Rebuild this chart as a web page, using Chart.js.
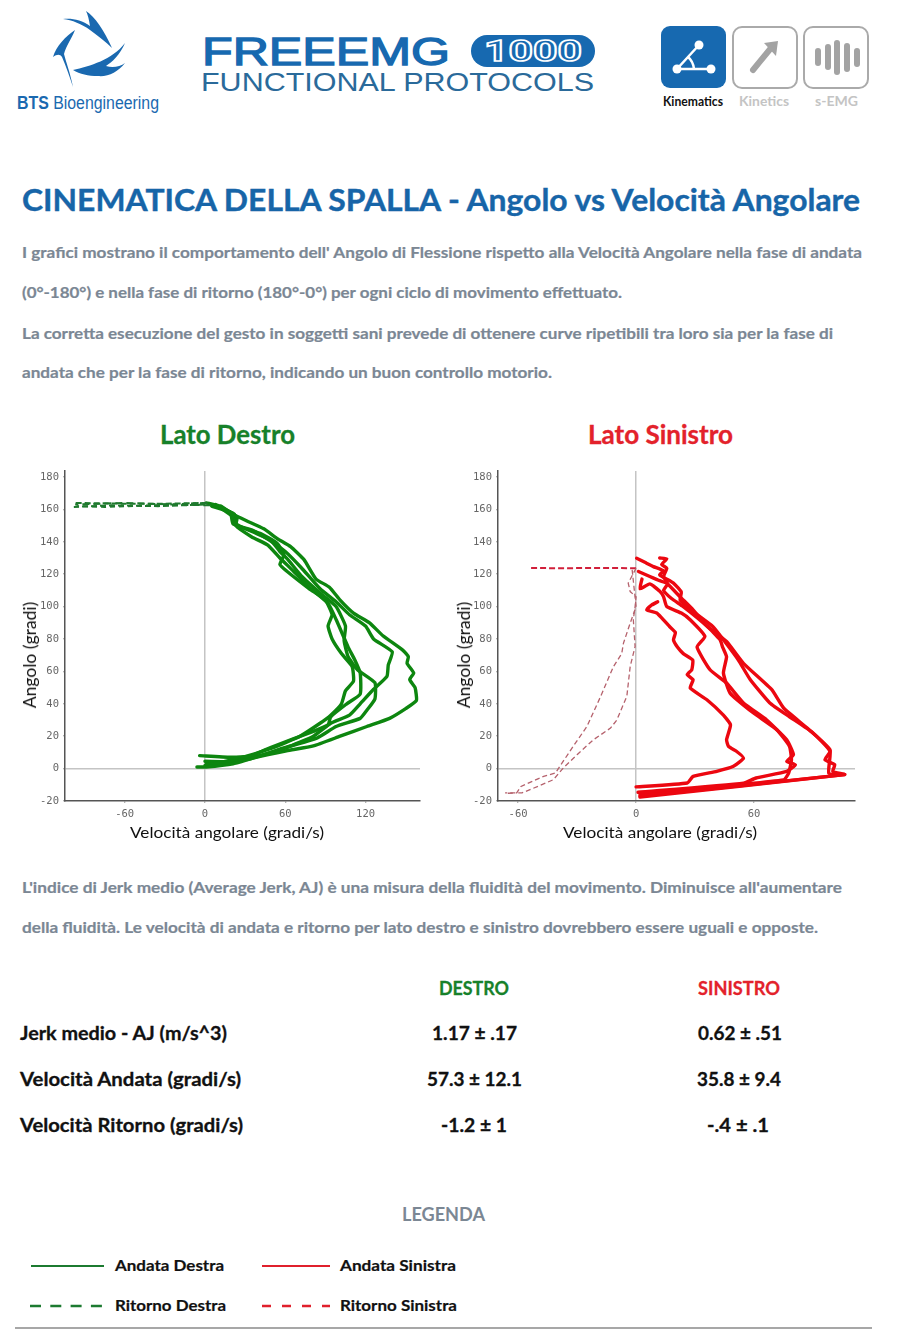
<!DOCTYPE html>
<html lang="it">
<head>
<meta charset="utf-8">
<title>Cinematica della spalla</title>
<script src="https://cdn.jsdelivr.net/npm/chart.js@4/dist/chart.umd.min.js"></script>
<style>
    html, body { margin: 0; padding: 0; background: #fff; }
    #page { position: relative; width: 924px; height: 1339px; overflow: hidden; font-family: Lato, sans-serif; font-weight: 700; }
    .t { position: absolute; white-space: nowrap; line-height: 0; transform-origin: left center; }
    .para { font-size: 15px; color: #7b8794; -webkit-text-stroke: 0.2px #7b8794; }
    .row { font-size: 19px; color: #111; -webkit-text-stroke: 0.3px #111; }
    .leg { font-size: 15px; color: #111; -webkit-text-stroke: 0.2px #111; }
    .axis { font-size: 16px; font-weight: 400; color: #111; }
    .tick-y { transform-origin: center center; }
    canvas { position: absolute; }
    svg { position: absolute; left: 0; top: 0; }
</style>
</head>
<body>
<div id="page">
    <svg width="924" height="1339">
        <!-- BTS logo -->
        <g fill="#1a69b0">
            <path d="M63 19 C72 18 82 20 90 26 C89 20 88 15 86 11 C95 17 104 30 112 48 C106 42 98 36 90 30 C82 24 72 20 63 19Z"/>
            <path d="M75 30 C66 36 56 46 53 57 C57 54 60 54 62 57 C66 66 70 78 73 87 C70 72 66 62 64 54 C66 46 72 38 75 30Z"/>
            <path d="M73 70 C90 66 112 60 125 43 C120 55 112 62 106 66 C112 68 120 67 125 63 C118 72 108 77 98 76 C88 76 80 74 73 70Z"/>
        </g>
        <!-- 1000 pill -->
        <rect x="471" y="35" width="124" height="32" rx="16" fill="#1769b0"/>
        <!-- Kinematics icon -->
        <rect x="661" y="26" width="65" height="62" rx="9" fill="#1769b0"/>
        <g stroke="#fff" stroke-width="2.5" fill="none">
            <path d="M699 45 L677 69 L711 69"/>
            <path d="M688 57 Q693 61 694 69"/>
        </g>
        <g fill="#fff">
            <circle cx="699" cy="45" r="4.5"/><circle cx="677" cy="69" r="4.5"/><circle cx="711" cy="69" r="4.5"/>
        </g>
        <!-- Kinetics icon -->
        <rect x="733" y="27" width="64" height="61" rx="9" fill="#fff" stroke="#aaa" stroke-width="2"/>
        <path d="M753 70 L771 48" stroke="#a3a3a3" stroke-width="6" stroke-linecap="round"/>
        <path d="M764 43 L778 41 L776 56 Z" fill="#a3a3a3"/>
        <!-- s-EMG icon -->
        <rect x="804" y="27" width="64" height="61" rx="9" fill="#fff" stroke="#aaa" stroke-width="2"/>
        <g stroke="#a3a3a3" stroke-width="6" stroke-linecap="round">
            <path d="M818 51 V63"/><path d="M828 47 V67"/><path d="M837 43 V72"/><path d="M847 46 V69"/><path d="M857 51 V64"/>
        </g>
        <!-- legend samples -->
        <line x1="31" y1="1266" x2="104" y2="1266" stroke="#1c7a30" stroke-width="2.2"/>
        <line x1="262" y1="1266" x2="330" y2="1266" stroke="#e0202c" stroke-width="2.2"/>
        <line x1="30" y1="1306" x2="102" y2="1306" stroke="#1c7a30" stroke-width="2.5" stroke-dasharray="11 9.3"/>
        <line x1="262" y1="1306" x2="330" y2="1306" stroke="#e0202c" stroke-width="2.5" stroke-dasharray="9 11"/>
        <line x1="15" y1="1328" x2="872" y2="1328" stroke="#8a8a8a" stroke-width="1.5"/>
    </svg>

    <span class="t" data-w="142" style="left:17px;top:103px;font-size:18px;font-family:'Liberation Sans';font-weight:400;color:#1a69b0"><b>BTS</b> Bioengineering</span>
    <span class="t" data-w="248" style="left:202px;top:52px;font-size:39px;font-family:'Liberation Sans';font-weight:400;color:#1769b0;-webkit-text-stroke:1.3px #1769b0">FREEEMG</span>
    <span class="t" data-w="98" style="left:484px;top:51px;font-size:30px;font-family:Roboto;color:#1769b0;-webkit-text-stroke:1.6px #fff">1000</span>
    <span class="t" data-w="393" style="left:201px;top:82px;font-size:26px;font-family:'Liberation Sans';font-weight:400;color:#2a6a9a">FUNCTIONAL PROTOCOLS</span>
    <span class="t" data-w="60" style="left:663px;top:101px;font-size:14px;color:#111">Kinematics</span>
    <span class="t" data-w="50" style="left:739px;top:101px;font-size:13px;color:#c4c4c4">Kinetics</span>
    <span class="t" data-w="43" style="left:815px;top:101px;font-size:13px;color:#c4c4c4">s-EMG</span>

    <span class="t" data-w="838" style="left:22px;top:199px;font-size:31px;color:#1765a8;-webkit-text-stroke:0.4px #1765a8">CINEMATICA DELLA SPALLA - Angolo vs Velocità Angolare</span>
    <span class="t para" data-w="840" style="left:22px;top:252px">I grafici mostrano il comportamento dell' Angolo di Flessione rispetto alla Velocità Angolare nella fase di andata</span>
    <span class="t para" data-w="600" style="left:22px;top:292px">(0°-180°) e nella fase di ritorno (180°-0°) per ogni ciclo di movimento effettuato.</span>
    <span class="t para" data-w="811" style="left:22px;top:333px">La corretta esecuzione del gesto in soggetti sani prevede di ottenere curve ripetibili tra loro sia per la fase di</span>
    <span class="t para" data-w="530" style="left:22px;top:372px">andata che per la fase di ritorno, indicando un buon controllo motorio.</span>

    <span class="t" data-w="135" style="left:160px;top:434px;font-size:26px;color:#17812a;-webkit-text-stroke:0.3px #17812a">Lato Destro</span>
    <span class="t" data-w="145" style="left:588px;top:434px;font-size:26px;color:#e3222b;-webkit-text-stroke:0.3px #e3222b">Lato Sinistro</span>

    <canvas id="chartDestro" width="420" height="385" style="left:15px;top:460px"></canvas>
    <canvas id="chartSinistro" width="420" height="385" style="left:448px;top:460px"></canvas>

    <span class="t axis" data-w="194" style="left:130px;top:832px">Velocità angolare (gradi/s)</span>
    <span class="t axis" data-w="194" style="left:563px;top:832px">Velocità angolare (gradi/s)</span>
    <span class="t axis tick-y" style="left:30px;top:655px;font-size:17.5px;transform:translateX(-50%) rotate(-90deg)">Angolo (gradi)</span>
    <span class="t axis tick-y" style="left:464px;top:655px;font-size:17.5px;transform:translateX(-50%) rotate(-90deg)">Angolo (gradi)</span>

    <span class="t para" data-w="820" style="left:22px;top:887px">L'indice di Jerk medio (Average Jerk, AJ) è una misura della fluidità del movimento. Diminuisce all'aumentare</span>
    <span class="t para" data-w="796" style="left:22px;top:927px">della fluidità. Le velocità di andata e ritorno per lato destro e sinistro dovrebbero essere uguali e opposte.</span>

    <span class="t" data-w="70" style="left:439px;top:988px;font-size:18px;color:#17812a;-webkit-text-stroke:0.3px #17812a">DESTRO</span>
    <span class="t" data-w="82" style="left:698px;top:988px;font-size:18px;color:#e3222b;-webkit-text-stroke:0.3px #e3222b">SINISTRO</span>

    <span class="t row" data-w="207" style="left:20px;top:1033px">Jerk medio - AJ (m/s^3)</span>
    <span class="t row" data-w="85" style="left:432px;top:1033px">1.17 ± .17</span>
    <span class="t row" data-w="84" style="left:698px;top:1033px">0.62 ± .51</span>
    <span class="t row" data-w="221" style="left:20px;top:1079px">Velocità Andata (gradi/s)</span>
    <span class="t row" data-w="95" style="left:427px;top:1079px">57.3 ± 12.1</span>
    <span class="t row" data-w="84" style="left:697px;top:1079px">35.8 ± 9.4</span>
    <span class="t row" data-w="223" style="left:20px;top:1125px">Velocità Ritorno (gradi/s)</span>
    <span class="t row" data-w="66" style="left:441px;top:1125px">-1.2 ± 1</span>
    <span class="t row" data-w="62" style="left:707px;top:1125px">-.4 ± .1</span>

    <span class="t" data-w="83" style="left:402px;top:1214px;font-size:18px;color:#7b8794">LEGENDA</span>
    <span class="t leg" data-w="109" style="left:115px;top:1265px">Andata Destra</span>
    <span class="t leg" data-w="116" style="left:340px;top:1265px">Andata Sinistra</span>
    <span class="t leg" data-w="111" style="left:115px;top:1305px">Ritorno Destra</span>
    <span class="t leg" data-w="117" style="left:340px;top:1305px">Ritorno Sinistra</span>
</div>

<script>
// Axis ticks
const angleTicks = [-20, 0, 20, 40, 60, 80, 100, 120, 140, 160, 180];
const speedTicksDestro = [-60, 0, 60, 120];
const speedTicksSinistro = [-60, 0, 60];

// Lato destro, andata: speed (gradi/s) and angle (gradi) for each cycle
const andataD1Speed = [-6, 1, 21, 36, 61, 81, 101, 121, 138, 150, 158, 157, 153, 156, 151, 152, 148, 133, 123, 111, 101, 93, 83, 74, 64, 54, 44, 31, 21, 11, 1];
const andataD1Angle = [1, 1, 3, 6.5, 11, 14, 20, 26, 31, 37, 42, 50, 55, 59, 65, 69, 73, 82, 90, 96, 104, 112, 117, 129, 137, 142, 148, 153, 157, 162, 164];
const andataD2Speed = [-4, 19, 41, 61, 81, 94, 108, 116, 126, 136, 137, 140, 126, 120, 108, 98, 86, 72, 60, 48, 36, 21, 19, 5];
const andataD2Angle = [8, 7, 8, 13, 20, 28, 33, 40, 49, 57, 64, 72, 80, 88, 95, 103, 111, 124, 134, 141, 147, 151, 158, 162];
const andataD3Speed = [1, 31, 56, 84, 98, 116, 121, 127, 127, 114, 107, 104, 105, 98, 88, 72, 62, 56, 49, 36, 23, 20, 8];
const andataD3Angle = [2.5, 5.5, 12, 19, 26, 31, 36, 43, 53, 61, 69, 79, 88, 100, 107, 119, 129, 134, 141, 146, 151, 156, 163];
const andataD4Speed = [0, 24, 49, 81, 92, 94, 106, 116, 116, 112, 107, 98, 92, 78, 66, 56, 47, 35, 23, 24, 12];
const andataD4Angle = [4.5, 4.5, 13, 23, 27, 32, 40, 46, 59, 67, 75, 92, 102, 112, 122, 130, 138, 143, 150, 155, 162];
const andataD5Speed = [0, 26, 51, 71, 86, 94, 102, 105, 111, 110, 102, 95, 92, 95, 90, 78, 61, 56, 59, 54, 42, 24, 22, 8];
const andataD5Angle = [2, 6.5, 13, 20, 28, 33, 40, 48, 54, 63, 71, 80, 88, 95, 104, 111, 122, 126, 132, 139, 145, 150, 157, 162];

// Lato destro, ritorno
const ritornoD1Speed = [2, -30, -60, -98];
const ritornoD1Angle = [164, 163.5, 163.5, 164];
const ritornoD2Speed = [0, -35, -70, -98];
const ritornoD2Angle = [163, 162, 162.5, 161.5];
const ritornoD3Speed = [4, -25, -60, -97];
const ritornoD3Angle = [162.5, 163, 164, 163];
const ritornoD4Speed = [0, -40, -75, -96];
const ritornoD4Angle = [164, 162.5, 161.5, 162];

// Lato sinistro, andata
const andataS1Speed = [0, 26, 29, 41, 49.5, 54.6, 51, 47, 46, 48, 44.4, 36, 27.5, 29, 26, 28.3, 28.8, 24, 21, 19, 20, 17, 13, 10.5, 5.4, 8, 11];
const andataS1Angle = [-11.3, -8.9, -4.8, -1.7, 1.4, 6.5, 10.7, 13.7, 17.8, 27, 33, 42.5, 49.7, 54.8, 58, 61, 67, 71, 75, 79.5, 84, 87.7, 93, 96, 98, 101, 103];
const andataS2Speed = [1, 54.6, 61, 76.6, 81, 76.6, 80, 76.6, 66.4, 54.6, 46, 37.6, 31, 35, 27.5, 23, 15.6, 14, 12.2, 7, 2, 3];
const andataS2Angle = [-14.6, -9, -5.8, -1.7, 2.4, 4.5, 8.6, 17.8, 30, 40.5, 52.8, 61, 75, 81.6, 91.9, 96, 100, 106, 109.3, 114, 111, 117];
const andataS3Speed = [2, 75, 77.6, 79, 78, 71.5, 59.7, 47.8, 44.4, 46, 44, 42.7, 36, 24, 18, 14, 16, 14, 15.6, 13, 15.6, 12];
const andataS3Angle = [-16, -7, -2.7, 5.5, 13.7, 24, 34.3, 46.6, 59, 69, 75, 79.5, 88, 100, 105, 110, 114, 118.6, 123.7, 126, 129.5, 130];
const andataS4Speed = [2, 106, 100, 101, 96, 98.6, 90, 78, 68, 58, 52, 44.4, 39, 30, 22.4, 23, 19, 12, 14, 8.8, 5, 0.3];
const andataS4Angle = [-17, -3.7, -1.7, 2.4, 5.5, 10.7, 22, 32, 40.5, 55, 67, 79.5, 87.7, 96, 104, 109, 114.5, 119.6, 122, 124.7, 127, 129.9];
const andataS5Speed = [2, 106, 98, 98.6, 87, 75, 69, 54.6, 46, 36, 29, 22.4, 15.6, 12, 7, 1.2];
const andataS5Angle = [-17.5, -3.7, -3, 11.7, 25, 37.4, 48.7, 65, 78.5, 88, 98, 106, 114.5, 116, 118.6, 121.7];

// Lato sinistro, ritorno
const ritornoS1Speed = [0, -4, -3, 0, -0.5, -1.4, -0.5, -3, -4.7, -9.8, -13, -21.7, -30, -37, -42, -49, -58, -66.6];
const ritornoS1Angle = [123.7, 114.5, 109.3, 106, 100, 92, 75.4, 63, 44.6, 30, 25, 17.8, 8.6, 0.4, -6.8, -10.5, -15, -15];
const ritornoS2Speed = [-2, 0, -3, -6.4, -7.3, -11.5, -18, -25, -32, -41, -47, -58.5, -60.7, -66.6];
const ritornoS2Angle = [122.7, 100, 89.8, 77.5, 71, 63, 44.6, 26, 13.7, -2.7, -4.8, -11, -15, -15.3];
const ritornoS3Speed = [0, -20, -35, -54.7];
const ritornoS3Angle = [123.7, 123.9, 123.7, 123.8];

const GREEN = '#0d860f';
const RED = '#ec0710';

// Fit the page text to the widths measured on the reference
document.querySelectorAll('.t[data-w]').forEach((el) => {
    const scale = parseFloat(el.dataset.w) / el.getBoundingClientRect().width;
    el.style.transform = `scaleX(${scale})`;
});

function toPoints(speeds, angles) {
    return speeds.map((v, i) => ({ x: v, y: angles[i] }));
}

function solidSet(speeds, angles, color) {
    return {
        data: toPoints(speeds, angles),
        borderColor: color,
        borderWidth: 3.4,
        borderJoinStyle: 'round',
        borderCapStyle: 'round',
        showLine: true,
        pointRadius: 0,
        tension: 0.15
    };
}

function dashedSet(speeds, angles, color, width, dash) {
    return { data: toPoints(speeds, angles), borderColor: color, borderWidth: width, borderDash: dash, showLine: true, pointRadius: 0, tension: 0 };
}

function axisScale(min, max, ticks, size, isX) {
    return {
        type: 'linear',
        min: min,
        max: max,
        afterBuildTicks: (scale) => { scale.ticks = ticks.map((v) => ({ value: v })); },
        afterFit: (scale) => {
            if (isX) scale.height = size; else scale.width = size;
        },
        border: { color: '#555', width: 1.5 },
        grid: {
            color: (c) => (c.tick && c.tick.value === 0 ? '#c4c4c4' : 'rgba(0,0,0,0)'),
            lineWidth: 1.5,
            tickColor: '#999',
            tickWidth: 1,
            tickLength: 2
        },
        ticks: {
            autoSkip: false,
            maxRotation: 0,
            color: '#666',
            padding: isX ? 5 : 4,
            font: { family: 'DejaVu Sans Mono', size: 10.5 },
            callback: (v) => (v < 0 ? '-' + Math.abs(v) : String(v))
        }
    };
}

function makeChart(id, datasets, xMin, xMax, xTicks, rightPad) {
    return new Chart(document.getElementById(id), {
        type: 'scatter',
        data: { datasets: datasets },
        options: {
            responsive: false,
            animation: false,
            layout: { autoPadding: false, padding: { top: 11, right: rightPad, left: 0, bottom: 0 } },
            plugins: { legend: { display: false }, tooltip: { enabled: false } },
            scales: {
                x: axisScale(xMin, xMax, xTicks, 44, true),
                y: axisScale(-20, 183.7, angleTicks, 50, false)
            }
        }
    });
}

makeChart('chartDestro', [
    dashedSet(ritornoD1Speed, ritornoD1Angle, '#1f7a2e', 2, [6, 3]),
    dashedSet(ritornoD2Speed, ritornoD2Angle, '#1f7a2e', 2, [6, 3]),
    dashedSet(ritornoD3Speed, ritornoD3Angle, '#1f7a2e', 2, [7, 4]),
    dashedSet(ritornoD4Speed, ritornoD4Angle, '#1f7a2e', 2, [5, 4]),
    solidSet(andataD1Speed, andataD1Angle, GREEN),
    solidSet(andataD2Speed, andataD2Angle, GREEN),
    solidSet(andataD3Speed, andataD3Angle, GREEN),
    solidSet(andataD4Speed, andataD4Angle, GREEN),
    solidSet(andataD5Speed, andataD5Angle, GREEN)
], -104.6, 160.7, speedTicksDestro, 15);

makeChart('chartSinistro', [
    dashedSet(ritornoS1Speed, ritornoS1Angle, '#b5616c', 1.3, [5, 3]),
    dashedSet(ritornoS2Speed, ritornoS2Angle, '#b5616c', 1.3, [5, 3]),
    dashedSet(ritornoS3Speed, ritornoS3Angle, '#d11f3a', 2, [6, 3]),
    solidSet(andataS1Speed, andataS1Angle, RED),
    solidSet(andataS2Speed, andataS2Angle, RED),
    solidSet(andataS3Speed, andataS3Angle, RED),
    solidSet(andataS4Speed, andataS4Angle, RED),
    solidSet(andataS5Speed, andataS5Angle, RED)
], -70.2, 111.3, speedTicksSinistro, 13);
</script>
</body>
</html>
